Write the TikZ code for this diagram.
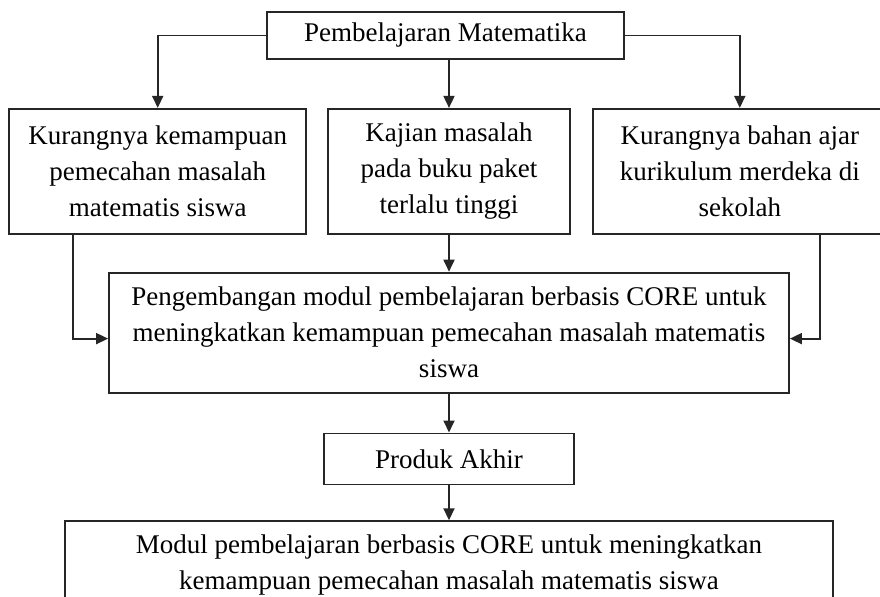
\documentclass[tikz,border=0pt]{standalone}
\usepackage{fontspec}
\setmainfont{Liberation Serif}
\usepackage{tikz}
\usetikzlibrary{arrows.meta,positioning}
\tikzset{
  flowbox/.style={
    rectangle,
    draw=black!85,
    line width=0.9pt,
    align=center,
    font=\fontsize{13.5}{18}\selectfont,
    inner sep=3pt
  },
  issuebox/.style={
    flowbox,
    minimum height=62.5pt
  },
  flowline/.style={-{Triangle[width=5.5pt,length=6pt]},line width=0.9pt,draw=black!85}
}

\begin{document}
\begin{tikzpicture}[node distance=19.5pt and 10pt]
  \useasboundingbox (0,0) rectangle (440pt,-298pt);
  \node[flowbox, minimum width=178.5pt, minimum height=23.5pt] (pemb) at (222.75pt,-17.75pt) {Pembelajaran Matematika};
  \node[issuebox, minimum width=121pt, below=24pt of pemb, xshift=1.75pt] (kajian) {Kajian masalah\\pada buku paket\\terlalu tinggi};
  \node[issuebox, minimum width=148.5pt, left=of kajian] (kurang) {Kurangnya kemampuan\\pemecahan masalah\\matematis siswa};
  \node[issuebox, minimum width=147pt, right=10.5pt of kajian] (bahan) {Kurangnya bahan ajar\\kurikulum merdeka di\\sekolah};
  \node[flowbox, minimum width=340pt, minimum height=60pt, below=18.5pt of kajian] (modul) {Pengembangan modul pembelajaran berbasis CORE untuk\\meningkatkan kemampuan pemecahan masalah matematis\\siswa};
  \node[flowbox, minimum width=125pt, minimum height=25.5pt, below=of modul] (produk) {Produk Akhir};
  \node[flowbox, minimum width=384pt, minimum height=44pt, below=17.5pt of produk] (akhir) {Modul pembelajaran berbasis CORE untuk meningkatkan\\kemampuan pemecahan masalah matematis siswa};
  \draw[flowline] (pemb.west) -| (kurang.north);
  \draw[flowline] (pemb.east) -| (bahan.north);
  \draw[flowline] (pemb.south -| kajian.north) -- (kajian.north);
  \draw[flowline] ([xshift=32.5pt]kurang.south west) |- ([yshift=-3pt]modul.west);
  \draw[flowline] ([xshift=114pt]bahan.south west) |- ([yshift=-3pt]modul.east);
  \draw[flowline] (kajian) -- (modul);
  \draw[flowline] (modul) -- (produk);
  \draw[flowline] (produk) -- (akhir);
\end{tikzpicture}
\end{document}
